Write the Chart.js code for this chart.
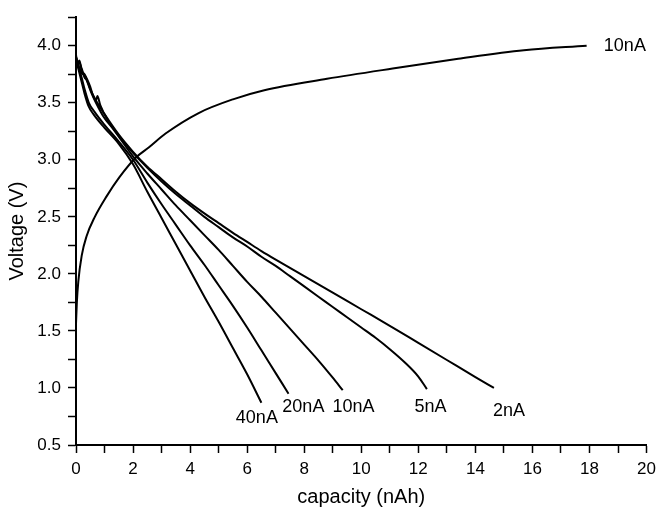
<!DOCTYPE html>
<html>
<head>
<meta charset="utf-8">
<script src="https://cdn.jsdelivr.net/npm/chart.js@4/dist/chart.umd.min.js"></script>
<style>
body{margin:0;background:#fff}
</style>
</head>
<body>
<canvas id="voltChart" width="662" height="509"></canvas>
<script>

// charge curve, 10nA
let chargeX = [0, 0.03, 0.08, 0.2, 0.37, 0.66, 1.06, 1.53, 2.1, 2.56, 3.14, 4.3, 5.5, 6.6, 8.8, 11.1, 13.4, 15.7, 17.9]
let chargeY = [1.56, 1.75, 1.93, 2.16, 2.33, 2.5, 2.675, 2.85, 3.02, 3.11, 3.23, 3.41, 3.53, 3.61, 3.71, 3.8, 3.885, 3.96, 4.0]

// discharge curves
let dis40X = [0, 0.08, 0.2, 0.3, 0.44, 0.61, 1.0, 1.5, 2.0, 2.5, 3.0, 3.5, 4.0, 4.5, 5.0, 5.5, 6.0, 6.5]
let dis40Y = [3.88, 3.8, 3.68, 3.58, 3.47, 3.4, 3.28, 3.14, 2.96, 2.72, 2.49, 2.26, 2.03, 1.8, 1.58, 1.35, 1.12, 0.87]

let dis20X = [0, 0.1, 0.2, 0.3, 0.45, 0.65, 1.02, 1.5, 2.0, 2.5, 3.0, 3.5, 4.0, 4.5, 5.0, 5.5, 6.0, 6.5, 7.0, 7.45]
let dis20Y = [3.9, 3.8, 3.72, 3.62, 3.5, 3.42, 3.3, 3.16, 3.0, 2.8, 2.61, 2.43, 2.25, 2.08, 1.9, 1.72, 1.53, 1.33, 1.13, 0.95]

let dis10X = [0, 0.05, 0.1, 0.2, 0.3, 0.4, 0.55, 0.7, 0.96, 1.3, 2.0, 2.5, 3.0, 3.5, 4.0, 4.5, 5.0, 5.5, 6.0, 6.5, 7.0, 7.5, 8.0, 8.5, 9.0, 9.35]
let dis10Y = [3.9, 3.86, 3.82, 3.76, 3.74, 3.68, 3.58, 3.5, 3.38, 3.27, 3.03, 2.88, 2.74, 2.6, 2.47, 2.34, 2.21, 2.07, 1.93, 1.8, 1.66, 1.52, 1.38, 1.24, 1.09, 0.98]

let dis5X = [0, 0.05, 0.12, 0.2, 0.3, 0.4, 0.5, 0.6, 0.7, 0.75, 0.85, 1.13, 1.6, 2.0, 2.5, 3.0, 3.5, 4.0, 4.5, 5.0, 5.5, 6.0, 6.5, 7.0, 7.5, 8.0, 8.5, 9.0, 9.5, 10.0, 10.5, 11.0, 11.5, 12.0, 12.3]
let dis5Y = [3.92, 3.85, 3.87, 3.78, 3.75, 3.7, 3.64, 3.56, 3.52, 3.56, 3.48, 3.34, 3.18, 3.06, 2.93, 2.81, 2.7, 2.6, 2.5, 2.41, 2.32, 2.24, 2.15, 2.07, 1.98, 1.89, 1.8, 1.71, 1.62, 1.53, 1.44, 1.34, 1.23, 1.1, 0.99]

let dis2X = [0, 0.05, 0.1, 0.2, 0.3, 0.38, 0.5, 0.7, 1.0, 1.5, 2.0, 2.5, 3.0, 3.5, 4.0, 4.5, 5.0, 5.5, 6.0, 6.5, 7.0, 8.0, 9.0, 10.0, 11.0, 12.0, 13.0, 14.0, 14.65]
let dis2Y = [3.9, 3.84, 3.86, 3.8, 3.72, 3.7, 3.62, 3.52, 3.4, 3.22, 3.07, 2.94, 2.83, 2.72, 2.62, 2.53, 2.445, 2.36, 2.28, 2.2, 2.125, 1.98, 1.835, 1.69, 1.545, 1.395, 1.245, 1.095, 1.0]

// curve labels
let labelText = ["40nA", "20nA", "10nA", "5nA", "2nA", "10nA"]
let labelX = [6.34, 7.97, 9.73, 12.43, 15.18, 19.24]
let labelY = [0.74, 0.83, 0.83, 0.83, 0.8, 4.0]

function toPoints(xs, ys){
return xs.map((x,i) => ({x:x, y:ys[i]}))
}

let curves = [
[chargeX, chargeY],
[dis40X, dis40Y],
[dis20X, dis20Y],
[dis10X, dis10Y],
[dis5X, dis5Y],
[dis2X, dis2Y]
]

let datasets = curves.map(c => ({
data: toPoints(c[0], c[1]),
borderColor: "#000",
borderWidth: 2,
pointRadius: 0,
fill: false,
cubicInterpolationMode: "monotone"
}))

const curveLabels = {
id: "curveLabels",
afterDatasetsDraw(chart){
let ctx = chart.ctx
let sx = chart.scales.x
let sy = chart.scales.y
ctx.save()
ctx.fillStyle = "#000"
ctx.font = "18px 'Liberation Sans', Arial, sans-serif"
ctx.textAlign = "center"
ctx.textBaseline = "middle"
for(let i=0;i<labelText.length;i++){
ctx.fillText(labelText[i], sx.getPixelForValue(labelX[i]), sy.getPixelForValue(labelY[i]))
}
ctx.restore()
}
}

Chart.defaults.font.family = "'Liberation Sans', Arial, sans-serif"
Chart.defaults.color = "#000"

let axisGrid = {
drawOnChartArea: false,
drawTicks: true,
tickLength: 8,
tickColor: "#000",
tickWidth: 1.5
}

new Chart(document.getElementById("voltChart"), {
type: "line",
data: {datasets: datasets},
options: {
responsive: false,
animation: false,
layout: {padding: {top: 10, right: 9, bottom: 0, left: 0}},
plugins: {legend: {display: false}, tooltip: {enabled: false}},
scales: {
x: {
type: "linear",
min: 0,
max: 20,
grid: axisGrid,
border: {color: "#000", width: 2},
ticks: {
stepSize: 1,
autoSkip: false,
maxRotation: 0,
padding: 6,
font: {size: 17},
callback: v => v % 2 === 0 ? String(v) : ""
},
title: {display: true, text: "capacity (nAh)", font: {size: 20}, padding: {top: 0, bottom: 0}},
afterFit: s => { s.height = 64 }
},
y: {
min: 0.5,
max: 4.25,
grid: axisGrid,
border: {color: "#000", width: 2},
ticks: {
stepSize: 0.25,
autoSkip: false,
padding: 7,
font: {size: 17},
callback: v => Math.abs(v*2 - Math.round(v*2)) < 1e-6 ? v.toFixed(1) : ""
},
title: {display: true, text: "Voltage (V)", font: {size: 20}, padding: {top: 5, bottom: 0}},
afterFit: s => { s.width = 76 }
}
}
},
plugins: [curveLabels]
})

</script>
</body>
</html>
